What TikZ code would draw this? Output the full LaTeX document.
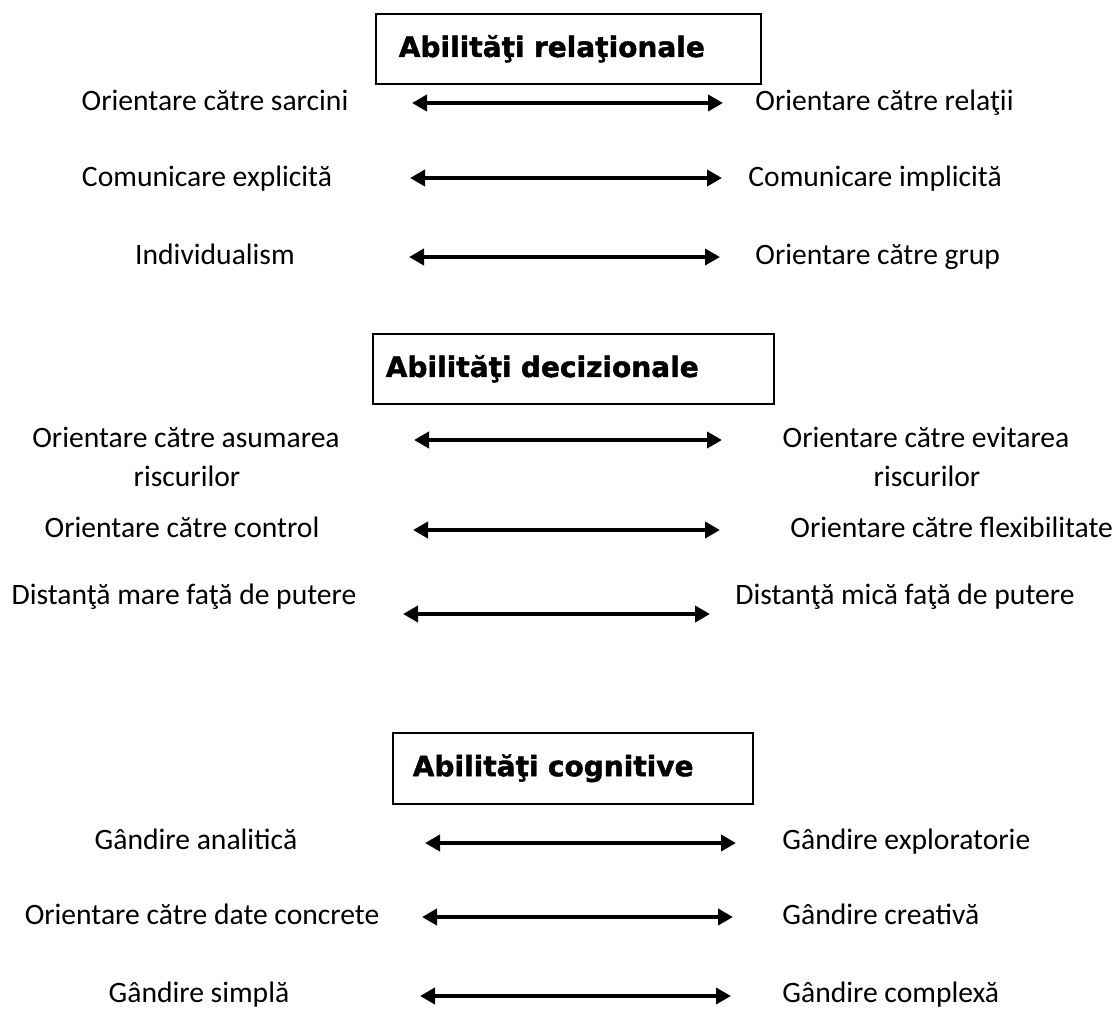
\documentclass[tikz,border=0pt]{standalone}
\usepackage{fontspec}
\setmainfont{Carlito}
\newfontfamily\headfont{DejaVu Sans Bold}[FakeBold=1.5]
\usetikzlibrary{arrows.meta}
\tikzset{
	lbl/.style={font=\fontsize{14.8}{18}\selectfont,inner sep=0pt,text height=9pt,text depth=3pt},
	head/.style={draw,line width=.8pt,anchor=north west,align=left,minimum height=35pt,font=\headfont\fontsize{14}{17}\selectfont},
	twoway/.style={{Triangle[length=7.5pt,width=8pt]}-{Triangle[length=7.5pt,width=8pt]},line width=2pt}
}
\begin{document}
\begin{tikzpicture}[x=.5pt,y=-.5pt]
	\useasboundingbox(0,0)rectangle(1115,1014);
	% titles
	\node[head,inner xsep=11.5pt,text width=169.5pt](rel)at(375,13){Abilităţi relaţionale};
	\node[head,inner xsep=6.5pt,text width=187.5pt](dec)at(372,333){Abilităţi decizionale};
	\node[head,inner xsep=10pt,text width=160pt,minimum height=35.5pt](cog)at(392,732){Abilităţi cognitive};
	% left side
	\node[lbl](l1)at(215,104){Orientare către sarcini};
	\node[lbl](l2)at(207,180){Comunicare explicită};
	\node[lbl](l3)at(215,258){Individualism};
	\node[lbl](l4)at(186,441){Orientare către asumarea};
	\node[lbl](l4b)at(187,480){riscurilor};
	\node[lbl](l5)at(182,531){Orientare către control};
	\node[lbl](l6)at(184,598){Distanţă mare faţă de putere};
	\node[lbl](l7)at(196,843){Gândire analitică};
	\node[lbl](l8)at(202,918){Orientare către date concrete};
	\node[lbl](l9)at(199,996){Gândire simplă};
	% right side
	\node[lbl,anchor=west](r1)at(755,104){Orientare către relaţii};
	\node[lbl,anchor=west](r2)at(748,180){Comunicare implicită};
	\node[lbl,anchor=west](r3)at(755,258){Orientare către grup};
	\node[lbl](r4)at(926,441){Orientare către evitarea};
	\node[lbl](r4b)at(927,480){riscurilor};
	\node[lbl,anchor=west](r5)at(790,531){Orientare către flexibilitate};
	\node[lbl](r6)at(905,598){Distanţă mică faţă de putere};
	\node[lbl,anchor=west](r7)at(782,843){Gândire exploratorie};
	\node[lbl,anchor=west](r8)at(782,918){Gândire creativă};
	\node[lbl,anchor=west](r9)at(782,996){Gândire complexă};
	% arrows
	\foreach \n/\xa/\xb/\y in {1/412/723/103,2/410/722/178,3/409/720/257,4/414/722/440,5/413/720/530,6/403/710/614,7/425/736/843,8/422/733/917,9/420/731/996}{
		\coordinate(a\n)at(\xa,\y);
		\coordinate(b\n)at(\xb,\y);
		\draw[twoway](a\n)--(b\n);
	}
\end{tikzpicture}
\end{document}
